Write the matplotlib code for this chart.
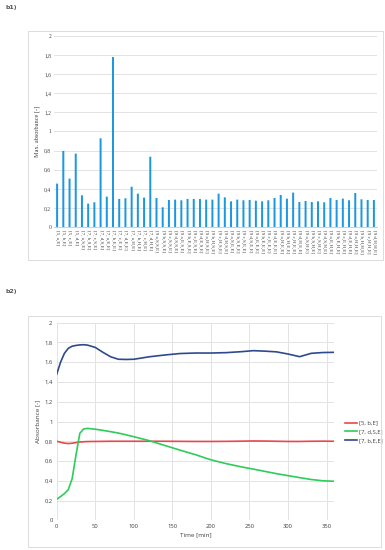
import matplotlib
matplotlib.use("Agg")
import matplotlib.pyplot as plt
from matplotlib.patches import Rectangle
import numpy as np

# ---------------- data: panel b1 ----------------
letters = ["a", "b", "c", "d"]
subs7 = ["S", "E", "H"]
subs9 = [("S", "S"), ("E", "S"), ("H", "S"), ("S", "E"), ("E", "E"), ("H", "E"),
         ("S", "H"), ("E", "H"), ("H", "H")]
categories = ([f"[5, {l},E]" for l in letters]
              + [f"[7, {l},{s},E]" for s in subs7 for l in letters]
              + [f"[9 {l},{a},{b},E]" for (a, b) in subs9 for l in letters])

max_abs = [0.456, 0.797, 0.508, 0.769, 0.334, 0.247, 0.261, 0.929, 0.320, 1.777,
           0.296, 0.303, 0.424, 0.351, 0.310, 0.737, 0.306, 0.209, 0.285, 0.289,
           0.282, 0.296, 0.296, 0.296, 0.289, 0.289, 0.351, 0.313, 0.271, 0.289,
           0.282, 0.285, 0.278, 0.271, 0.282, 0.306, 0.337, 0.299, 0.362, 0.264,
           0.275, 0.264, 0.271, 0.261, 0.306, 0.285, 0.299, 0.282, 0.358, 0.292,
           0.285, 0.285]

# ---------------- data: panel b2 ----------------
time_min = [0, 5, 10, 15, 20, 25, 30, 35, 40, 50, 60, 70, 80, 90, 100, 120, 140,
            160, 180, 200, 220, 240, 255, 270, 285, 300, 315, 330, 345, 360]
s_5bE = [0.800, 0.790, 0.781, 0.777, 0.780, 0.787, 0.792, 0.795, 0.797, 0.798,
         0.799, 0.800, 0.800, 0.800, 0.800, 0.800, 0.800, 0.799, 0.798, 0.798,
         0.799, 0.801, 0.803, 0.802, 0.800, 0.798, 0.798, 0.800, 0.801, 0.800]
s_7dSE = [0.213, 0.240, 0.270, 0.310, 0.420, 0.660, 0.880, 0.925, 0.930, 0.922,
          0.910, 0.897, 0.883, 0.865, 0.846, 0.806, 0.758, 0.710, 0.664, 0.612,
          0.573, 0.540, 0.518, 0.495, 0.472, 0.452, 0.432, 0.413, 0.400, 0.395]
s_7bEE = [1.478, 1.600, 1.690, 1.740, 1.762, 1.770, 1.775, 1.777, 1.773, 1.750,
          1.700, 1.655, 1.630, 1.628, 1.630, 1.655, 1.673, 1.688, 1.693, 1.693,
          1.697, 1.707, 1.717, 1.712, 1.705, 1.683, 1.656, 1.690, 1.698, 1.700]
series_names = ["[5, b,E]", "[7, d,S,E]", "[7, b,E,E]"]
series_colors = ["#e8474c", "#2ecc5a", "#2e4a8f"]

W, H = 385, 550
fig = plt.figure(figsize=(W / 100, H / 100), dpi=100)

def fx(x):
    return x / W

def fy(y):
    return 1 - y / H

grid_c = "#e3e3e3"
txt_c = "#404040"

# frames
fig.patches.append(Rectangle((fx(28), fy(260)), (383 - 28) / W, (260 - 31) / H,
                             transform=fig.transFigure, fill=False,
                             edgecolor="#dcdcdc", lw=0.7))
fig.patches.append(Rectangle((fx(28), fy(547)), (381 - 28) / W, (547 - 316) / H,
                             transform=fig.transFigure, fill=False,
                             edgecolor="#dcdcdc", lw=0.7))

fig.text(fx(5), fy(8), "b1)", fontsize=4.5, fontweight="bold", color="#555555",
         family="DejaVu Sans", va="center", ha="left")
fig.text(fx(5), fy(292), "b2)", fontsize=4.5, fontweight="bold", color="#555555",
         family="DejaVu Sans", va="center", ha="left")

# ---------------- panel b1 ----------------
ax1 = fig.add_axes([fx(54), fy(227.3), (377 - 54) / W, (227.3 - 35.7) / H])
xpos = np.arange(len(categories))
bars = ax1.bar(xpos, max_abs, width=0.32, color="#1b98e0", linewidth=0, zorder=3)
for b in bars:
    b.set_snap(False)
ax1.set_xlim(-0.5, len(categories) - 0.5)
ax1.set_ylim(0, 2)
yt = np.round(np.arange(0, 2.01, 0.2), 1)
ax1.set_yticks(yt)
ax1.set_yticklabels([("%g" % v).replace(".", ",") for v in yt],
                    fontsize=4, family="Liberation Serif", color=txt_c)
ax1.set_xticks(xpos)
ax1.set_xticklabels(categories, rotation=270, fontsize=3.6,
                    family="Liberation Serif", color=txt_c, ha="center", va="top")
ax1.tick_params(axis="both", length=0, pad=2)
ax1.grid(axis="y", color=grid_c, lw=0.7, zorder=0)
for s in ["top", "right", "left"]:
    ax1.spines[s].set_visible(False)
ax1.spines["bottom"].set_color("#d0d0d0")
ax1.spines["bottom"].set_linewidth(0.7)
ax1.set_ylabel("Max. absorbance [-]", fontsize=4.5, family="Liberation Serif",
               color=txt_c, labelpad=3)

# ---------------- panel b2 ----------------
ax2 = fig.add_axes([fx(56.7), fy(520.3), (334.3 - 56.7) / W, (520.3 - 322.7) / H])
for vals, name, col in zip([s_5bE, s_7dSE, s_7bEE], series_names, series_colors):
    ax2.plot(time_min, vals, color=col, lw=1.2, label=name, zorder=3)
ax2.set_xlim(0, 360)
ax2.set_ylim(0, 2)
ax2.set_xticks(np.arange(0, 351, 50))
ax2.set_xticklabels([str(v) for v in range(0, 351, 50)], fontsize=4.2,
                    family="Open Sans", color=txt_c)
ax2.set_yticks(yt)
ax2.set_yticklabels([("%g" % v).replace(".", ",") for v in yt], fontsize=4.2,
                    family="Open Sans", color=txt_c)
ax2.tick_params(axis="both", length=0, pad=3)
ax2.grid(True, color=grid_c, lw=0.7, zorder=0)
for s in ["top", "right", "left", "bottom"]:
    ax2.spines[s].set_visible(False)
ax2.set_xlabel("Time [min]", fontsize=4.6, family="Open Sans", color=txt_c,
               labelpad=2)
ax2.set_ylabel("Absorbance [-]", fontsize=4.6, family="Open Sans", color=txt_c,
               labelpad=3)
leg = ax2.legend(loc="center left", bbox_to_anchor=(fx(343), fy(431.7)),
                 bbox_transform=fig.transFigure, frameon=False,
                 prop={"family": "Open Sans", "size": 4.2}, handlelength=2.0,
                 handletextpad=0.3, labelspacing=0.6, borderaxespad=0)
for t in leg.get_texts():
    t.set_color(txt_c)

fig.savefig("out.png", dpi=100)
